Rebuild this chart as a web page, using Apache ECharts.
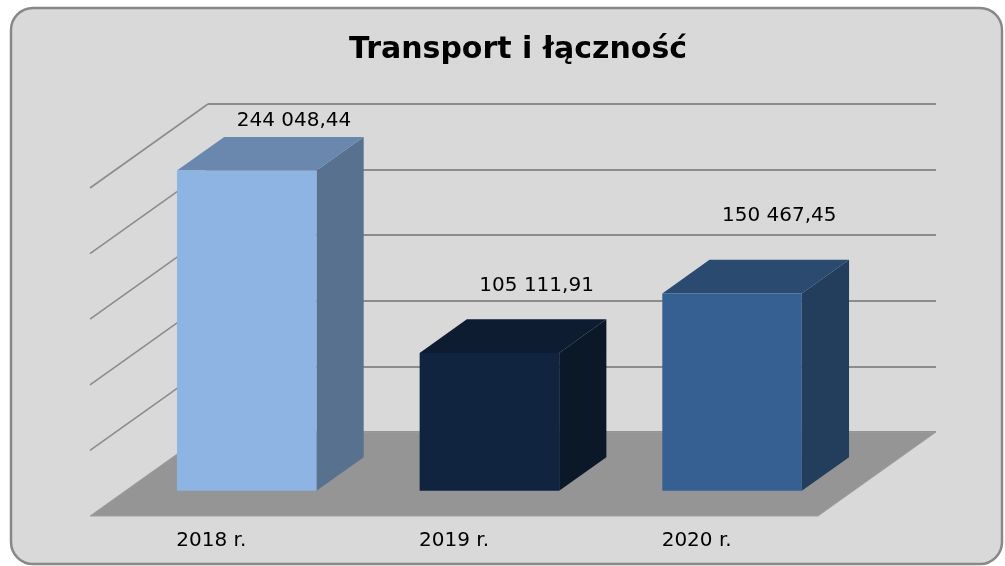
<!DOCTYPE html>
<html>
<head>
<meta charset="utf-8">
<script src="https://cdn.jsdelivr.net/npm/echarts@6/dist/echarts.min.js"></script>
<style>
html, body { margin: 0; padding: 0; background: #fff; }
#chart { width: 1005px; height: 566px; }
</style>
</head>
<body>
<div id="chart"></div>
<script>
var years = ['2018 r.', '2019 r.', '2020 r.'];
var values = [244048.44, 105111.91, 150467.45];
var yMax = 250000;
var yStep = 50000;

// colours per bar: front, top, side
var frontColors = ['#8EB4E3', '#10243F', '#376092'];
var topColors = ['#6A88AE', '#0D1C31', '#2A4A70'];
var sideColors = ['#58718F', '#0B1828', '#233D5D'];
var labelLift = [16, 33, 44];

// oblique depth of the floor (px), bars sit between 0.3 and 0.7 of it
var DX = -118, DY = 84;
var FRONT = 0.7, BACK = 0.3;
var FONT = '"DejaVu Sans", Verdana, sans-serif';

function fmt(v) {
  var p = v.toFixed(2).split('.');
  return p[0].replace(/\B(?=(\d{3})+(?!\d))/g, ' ') + ',' + p[1];
}

var myChart = echarts.init(document.getElementById('chart'));

function renderWalls(params, api) {
  var cs = params.coordSys;
  var bx = cs.x, by = cs.y + cs.height, r = cs.x + cs.width;
  var children = [];
  // floor
  children.push({
    type: 'polygon',
    shape: { points: [[bx, by], [r, by], [r + DX, by + DY], [bx + DX, by + DY]] },
    style: { fill: '#959595', stroke: '#9f9f9f', lineWidth: 1 }
  });
  // left side wall gridlines
  for (var v = yStep; v <= yMax; v += yStep) {
    var y = api.coord([0, v])[1];
    children.push({
      type: 'line',
      shape: { x1: bx, y1: y, x2: bx + DX, y2: y + DY },
      style: { stroke: '#8c8c8c', lineWidth: 1.6 }
    });
  }
  return { type: 'group', children: children };
}

function renderBar(params, api) {
  var i = api.value(0);
  var top = api.coord([i, api.value(1)]);
  var base = api.coord([i, 0]);
  var w = api.size([1, 0])[0] * 0.575;
  var x0 = top[0] - w / 2 + FRONT * DX;
  var yT = top[1] + FRONT * DY;
  var yB = base[1] + FRONT * DY;
  var ox = (FRONT - BACK) * -DX, oy = (FRONT - BACK) * -DY;
  return {
    type: 'group',
    children: [
      {
        type: 'polygon',
        shape: { points: [[x0 + w, yT], [x0 + w + ox, yT + oy], [x0 + w + ox, yB + oy], [x0 + w, yB]] },
        style: { fill: sideColors[i] }
      },
      {
        type: 'polygon',
        shape: { points: [[x0, yT], [x0 + w, yT], [x0 + w + ox, yT + oy], [x0 + ox, yT + oy]] },
        style: { fill: topColors[i] }
      },
      {
        type: 'rect',
        shape: { x: x0, y: yT, width: w, height: yB - yT },
        style: { fill: frontColors[i] }
      },
      {
        type: 'text',
        x: x0 + w / 2 + ox,
        y: yT + oy - labelLift[i],
        style: {
          text: fmt(api.value(1)), fill: '#000', font: '20px ' + FONT,
          align: 'center', verticalAlign: 'middle'
        }
      },
      {
        type: 'text',
        x: base[0] + DX,
        y: base[1] + DY + 25,
        style: {
          text: years[i], fill: '#000', font: '20px ' + FONT,
          align: 'center', verticalAlign: 'middle'
        }
      }
    ]
  };
}

var option = {
  backgroundColor: '#fff',
  animation: false,
  title: {
    text: 'Transport i łączność',
    left: 513,
    top: 30,
    textAlign: 'center',
    textStyle: { fontFamily: FONT, fontWeight: 'bold', fontSize: 30, color: '#000' }
  },
  graphic: [{
    type: 'rect',
    z: -10,
    shape: { x: 11, y: 8, width: 991, height: 556, r: 22 },
    style: { fill: '#D9D9D9', stroke: '#888888', lineWidth: 2.5 }
  }],
  grid: { left: 208, right: 69, top: 104, bottom: 134 },
  xAxis: {
    type: 'category',
    data: years,
    axisLine: { show: false },
    axisTick: { show: false },
    axisLabel: { show: false }
  },
  yAxis: {
    type: 'value',
    min: 0,
    max: yMax,
    interval: yStep,
    axisLabel: { show: false },
    axisLine: { show: false },
    axisTick: { show: false },
    splitLine: { lineStyle: { color: '#8c8c8c', width: 2 } }
  },
  series: [
    {
      type: 'custom',
      name: 'walls',
      renderItem: renderWalls,
      data: [[0, 0]],
      encode: { x: 0, y: 1 },
      clip: false,
      silent: true,
      z: 1
    },
    {
      type: 'custom',
      name: 'Transport i łączność',
      renderItem: renderBar,
      data: values.map(function (v, i) { return [i, v]; }),
      encode: { x: 0, y: 1 },
      clip: false,
      z: 3
    }
  ]
};
myChart.setOption(option);
</script>
</body>
</html>
